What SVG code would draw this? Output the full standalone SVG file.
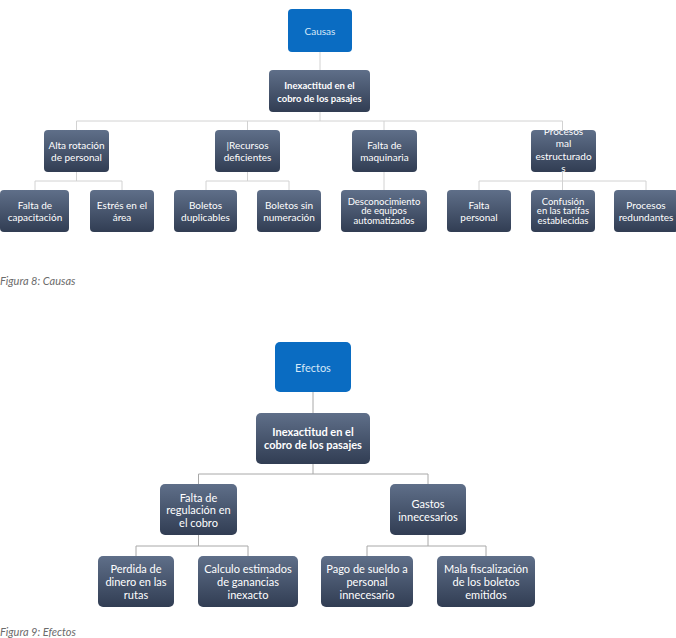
<svg xmlns="http://www.w3.org/2000/svg" width="676" height="638" viewBox="0 0 676 638">
<style>
.bx{fill:url(#g);}
.bl{fill:#0A6CC2;}
.t{font-family:Lato,"Open Sans","Liberation Sans",sans-serif;fill:#FFFFFF;text-anchor:middle;dominant-baseline:central;}
.s{font-size:10px;}
.m{font-size:11px;}
.b{font-weight:bold;}
.lt{fill:#D6E8F8;}
.c1{fill:none;stroke:#D2D2D2;stroke-width:1;}
.c2{fill:none;stroke:#A8A8A8;stroke-width:1;}
.cap{font-family:Lato,"Open Sans","Liberation Sans",sans-serif;font-style:italic;font-size:11px;fill:#6B6B6B;}
</style>
<defs>
<linearGradient id="g" x1="0" y1="0" x2="0" y2="1">
<stop offset="0" stop-color="#5F6F89"/>
<stop offset="1" stop-color="#313D53"/>
</linearGradient>
</defs>
<rect width="676" height="638" fill="#FFFFFF"/>
<g id="connectors">
<path class="c1" d="M320 52V70M320 112V121M76.5 121H562.5M76.5 121V130M247.5 121V130M384 121V130M562.5 121V130"/>
<path class="c1" d="M76.5 172V181M35 181H122M35 181V190M122 181V190"/>
<path class="c1" d="M247.5 172V181M206 181H289M206 181V190M289 181V190"/>
<path class="c1" d="M384 172V190"/>
<path class="c1" d="M562.5 172V181M479 181H646M479 181V190M562.5 181V190M646 181V190"/>
<path class="c2" d="M313 392V413M313 464V474M198.5 474H428M198.5 474V484M428 474V484"/>
<path class="c2" d="M198.5 535V546M136 546H248M136 546V556M248 546V556"/>
<path class="c2" d="M428 535V546M367 546H486M367 546V556M486 546V556"/>
</g>
<g id="causas"><rect class="bl" x="288" y="9" width="64" height="43" rx="4"/><text class="t s lt" x="320" y="30.5">Causas</text></g>
<g id="inexactitud1"><rect class="bx" x="269" y="70" width="101" height="42" rx="4"/><text class="t b" font-size="9.5" x="319.5" y="85">Inexactitud en el</text><text class="t b" font-size="9.5" x="319.5" y="98">cobro de los pasajes</text></g>
<g id="alta"><rect class="bx" x="44" y="130" width="65" height="42" rx="4"/><text class="t s" x="76.5" y="145">Alta rotación</text><text class="t s" x="76.5" y="156.5">de personal</text></g>
<g id="recursos"><rect class="bx" x="215" y="130" width="65" height="42" rx="4"/><text class="t s" x="247.5" y="145">|Recursos</text><text class="t s" x="247.5" y="156.5">deficientes</text></g>
<g id="maquinaria"><rect class="bx" x="352" y="130" width="65" height="42" rx="4"/><text class="t s" x="384.5" y="145">Falta de</text><text class="t s" x="384.5" y="156.5">maquinaria</text></g>
<g id="procesos"><rect class="bx" x="531" y="130" width="65" height="42" rx="4"/><text class="t s" x="563.5" y="130.5">Procesos</text><text class="t s" x="563.5" y="143">mal</text><text class="t s" x="563.5" y="155.5">estructurado</text><text class="t s" x="563.5" y="167.5">s</text></g>
<g id="capacitacion"><rect class="bx" x="0" y="190" width="69" height="42" rx="4"/><text class="t s" x="35" y="205">Falta de</text><text class="t s" x="35" y="217">capacitación</text></g>
<g id="estres"><rect class="bx" x="90" y="190" width="64" height="42" rx="4"/><text class="t s" x="122" y="205">Estrés en el</text><text class="t s" x="122" y="217">área</text></g>
<g id="duplicables"><rect class="bx" x="174" y="190" width="63" height="42" rx="4"/><text class="t s" x="205.5" y="205">Boletos</text><text class="t s" x="205.5" y="217">duplicables</text></g>
<g id="numeracion"><rect class="bx" x="257" y="190" width="64" height="42" rx="4"/><text class="t s" x="289" y="205">Boletos sin</text><text class="t s" x="289" y="217">numeración</text></g>
<g id="desconocimiento"><rect class="bx" x="341" y="190" width="86" height="42" rx="4"/><text class="t" font-size="9.5" x="384" y="201">Desconocimiento</text><text class="t" font-size="9.5" x="384" y="210.5">de equipos</text><text class="t" font-size="9.5" x="384" y="220">automatizados</text></g>
<g id="faltapersonal"><rect class="bx" x="447" y="190" width="64" height="42" rx="4"/><text class="t s" x="479" y="205">Falta</text><text class="t s" x="479" y="217">personal</text></g>
<g id="confusion"><rect class="bx" x="531" y="190" width="64" height="42" rx="4"/><text class="t" font-size="9.5" x="563" y="201">Confusión</text><text class="t" font-size="9.5" x="563" y="210.5">en las tarifas</text><text class="t" font-size="9.5" x="563" y="220">establecidas</text></g>
<g id="redundantes"><rect class="bx" x="614" y="190" width="64" height="42" rx="4"/><text class="t s" x="646" y="205">Procesos</text><text class="t s" x="646" y="217">redundantes</text></g>
<text class="cap" x="0" y="285">Figura 8: Causas</text>
<g id="efectos"><rect class="bl" x="275" y="342" width="76" height="50" rx="5"/><text class="t m lt" x="313" y="367">Efectos</text></g>
<g id="inexactitud2"><rect class="bx" x="256" y="413" width="114" height="51" rx="5"/><text class="t m b" x="313" y="431">Inexactitud en el</text><text class="t m b" x="313" y="444.5">cobro de los pasajes</text></g>
<g id="regulacion"><rect class="bx" x="160" y="484" width="77" height="51" rx="5"/><text class="t m" x="198.5" y="497">Falta de</text><text class="t m" x="198.5" y="509.5">regulación en</text><text class="t m" x="198.5" y="522">el cobro</text></g>
<g id="gastos"><rect class="bx" x="390" y="484" width="76" height="51" rx="5"/><text class="t m" x="428" y="503">Gastos</text><text class="t m" x="428" y="516">innecesarios</text></g>
<g id="perdida"><rect class="bx" x="98" y="556" width="76" height="51" rx="5"/><text class="t m" x="136" y="568">Perdida de</text><text class="t m" x="136" y="581">dinero en las</text><text class="t m" x="136" y="594">rutas</text></g>
<g id="calculo"><rect class="bx" x="198" y="556" width="100" height="51" rx="5"/><text class="t m" x="248" y="568">Calculo estimados</text><text class="t m" x="248" y="581">de ganancias</text><text class="t m" x="248" y="594">inexacto</text></g>
<g id="pago"><rect class="bx" x="321" y="556" width="92" height="51" rx="5"/><text class="t m" x="367" y="568">Pago de sueldo a</text><text class="t m" x="367" y="581">personal</text><text class="t m" x="367" y="594">innecesario</text></g>
<g id="mala"><rect class="bx" x="437" y="556" width="98" height="51" rx="5"/><text class="t m" x="486" y="568">Mala fiscalización</text><text class="t m" x="486" y="581">de los boletos</text><text class="t m" x="486" y="594">emitidos</text></g>
<text class="cap" x="0" y="636">Figura 9: Efectos</text>
</svg>
